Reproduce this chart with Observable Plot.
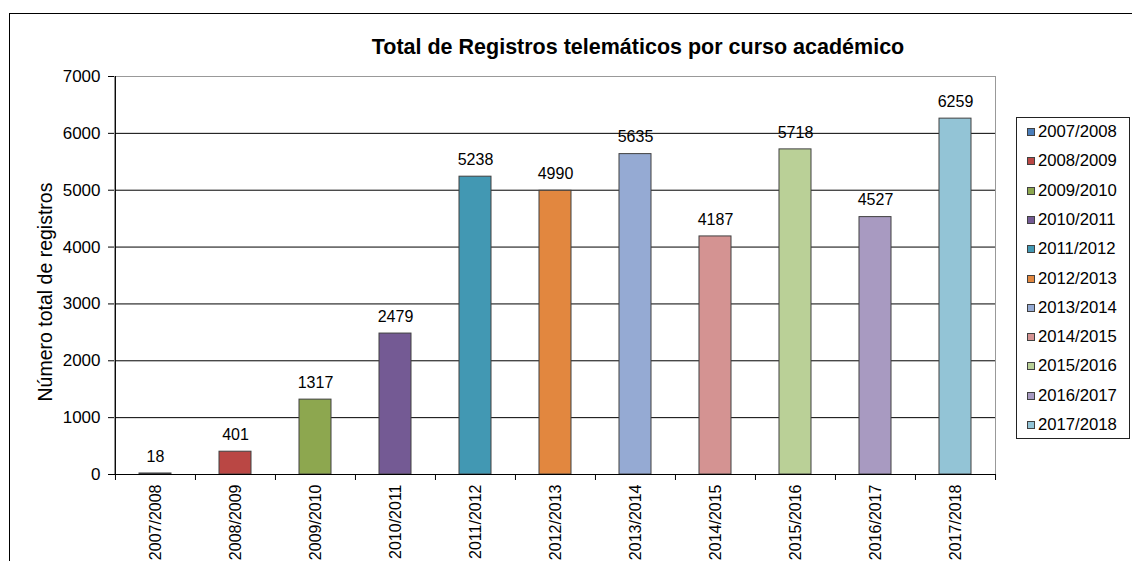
<!DOCTYPE html>
<html>
<head>
<meta charset="utf-8">
<script src="https://cdn.jsdelivr.net/npm/d3@7"></script>
<script src="https://cdn.jsdelivr.net/npm/@observablehq/plot@0.6"></script>
<style>
  html, body { margin: 0; padding: 0; background: #fff; overflow: hidden; width: 1132px; height: 561px; }
  body { position: relative; font-family: "Liberation Sans", Arial, sans-serif; color: #000; }
  #outer { position: absolute; left: 9px; top: 13px; width: 1200px; height: 700px; border: 1px solid #000; box-sizing: border-box; }
  #chart { position: absolute; left: 0; top: 0; }
  #title { position: absolute; left: 138px; width: 1000px; top: 34px; text-align: center; font-weight: bold; font-size: 21.5px; line-height: 26px; white-space: nowrap; }
  #ylabel { position: absolute; left: 45px; top: 292px; transform: translate(-50%, -50%) rotate(-90deg); font-size: 19.5px; white-space: nowrap; line-height: 22px; }
  #legend { position: absolute; left: 1016px; top: 117px; width: 114px; height: 322px; border: 1px solid #222; box-sizing: border-box; background: #fff; }
  .item { position: absolute; left: 10px; height: 20px; display: flex; align-items: center; font-size: 16.7px; white-space: nowrap; }
  .sw { width: 8px; height: 8px; border: 1px solid #404040; box-sizing: border-box; margin-right: 3px; }
</style>
</head>
<body>
<div id="outer"></div>
<div id="chart"></div>
<div id="title">Total de Registros telemáticos por curso académico</div>
<div id="ylabel">Número total de registros</div>
<div id="legend"></div>
<script>
const categories = ["2007/2008","2008/2009","2009/2010","2010/2011","2011/2012","2012/2013","2013/2014","2014/2015","2015/2016","2016/2017","2017/2018"];
const values = [18, 401, 1317, 2479, 5238, 4990, 5635, 4187, 5718, 4527, 6259];
const colors = ["#4A7EBB","#BA4744","#8DA74F","#745A94","#4298B3","#E2873F","#95AAD3","#D49392","#BAD097","#A89AC1","#93C4D6"];
const yTicks = [0, 1000, 2000, 3000, 4000, 5000, 6000, 7000];

const data = categories.map((c, i) => ({curso: c, total: values[i]}));

const W = 1000, H = 561, mL = 114, mR = 5, mT = 76, mB = 87;
const pIn = 0.6, pOut = 0.3;
const step = (W - mL - mR) / (categories.length - pIn + 2 * pOut);

const chart = Plot.plot({
  width: W, height: H,
  marginLeft: mL, marginRight: mR, marginTop: mT, marginBottom: mB,
  style: {fontFamily: "Liberation Sans, Arial, sans-serif", fontSize: "17px", color: "#000", background: "transparent", overflow: "visible"},
  x: {domain: categories, paddingInner: pIn, paddingOuter: pOut, label: null},
  y: {domain: [0, 7000], label: null},
  color: {domain: categories, range: colors},
  marks: [
    Plot.ruleY(yTicks.filter(t => t > 0 && t < 7000), {stroke: "#000", strokeWidth: 1}),
    Plot.frame({stroke: "#999"}),
    Plot.barY(data, {x: "curso", y: "total", fill: "curso", stroke: "#404040", strokeWidth: 1}),
    Plot.text(data, {x: "curso", y: "total", text: d => String(d.total), dy: -17, fontSize: 16, fill: "#000"}),
    Plot.ruleY([0], {stroke: "#000"}),
    Plot.ruleX([categories[0]], {y1: 0, y2: 7000, dx: -step / 2, stroke: "#000"}),
    Plot.ruleX(categories, {y1: 0, y2: 0, insetBottom: -6, dx: -step / 2, stroke: "#000"}),
    Plot.ruleX([categories[categories.length - 1]], {y1: 0, y2: 0, insetBottom: -6, dx: step / 2, stroke: "#000"}),
    Plot.axisY({ticks: yTicks, tickSize: 6, tickPadding: 8, tickFormat: d => String(d), fontSize: 17, label: null, stroke: "#000"}),
    Plot.axisX({tickSize: 0, tickRotate: -90, tickPadding: 10, fontSize: 16, label: null})
  ]
});
document.getElementById("chart").appendChild(chart);

const legend = document.getElementById("legend");
categories.forEach((c, i) => {
  const it = document.createElement("div");
  it.className = "item";
  it.style.top = (4 + i * 29.3) + "px";
  const sw = document.createElement("span");
  sw.className = "sw";
  sw.style.background = colors[i];
  const tx = document.createElement("span");
  tx.textContent = c;
  it.appendChild(sw); it.appendChild(tx);
  legend.appendChild(it);
});
</script>
</body>
</html>
